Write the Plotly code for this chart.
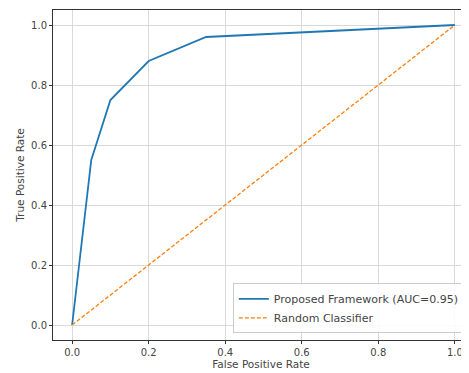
import plotly.graph_objects as go

fpr = [0.0, 0.05, 0.1, 0.2, 0.35, 1.0]
tpr = [0.0, 0.55, 0.75, 0.88, 0.96, 1.0]
rand_x = [0.0, 1.0]
rand_y = [0.0, 1.0]
ticks = [0.0, 0.2, 0.4, 0.6, 0.8, 1.0]
tick_labels = ["0.0", "0.2", "0.4", "0.6", "0.8", "1.0"]

fig = go.Figure()
fig.add_trace(go.Scatter(x=fpr, y=tpr, mode="lines", name="Proposed Framework (AUC=0.95)",
                         line=dict(color="#1f77b4", width=1.8)))
fig.add_trace(go.Scatter(x=rand_x, y=rand_y, mode="lines", name="Random Classifier",
                         line=dict(color="#ff7f0e", width=1.3, dash="4px,2px")))

axis_common = dict(showgrid=True, gridcolor="#d9d9d9", gridwidth=1, zeroline=False,
                   showline=True, linecolor="#333333", linewidth=1, mirror=True,
                   ticks="outside", ticklen=3, tickcolor="#333333",
                   tickvals=ticks, ticktext=tick_labels,
                   tickfont=dict(size=10, color="#444444"))

fig.update_layout(
    width=461, height=365,
    margin=dict(l=45, r=0, t=2, b=33),
    paper_bgcolor="white", plot_bgcolor="white",
    font=dict(family="DejaVu Sans", size=10, color="#444444"),
    showlegend=True,
    legend=dict(x=0.99, y=0.02, xanchor="right", yanchor="bottom",
                bgcolor="rgba(255,255,255,0.85)", bordercolor="#cccccc", borderwidth=1,
                font=dict(size=11), tracegroupgap=0, itemwidth=30),
    xaxis=dict(range=[-0.05, 1.037], title=dict(text="False Positive Rate", standoff=0,
               font=dict(size=10.5)), **axis_common),
    yaxis=dict(range=[-0.05, 1.05], title=dict(text="True Positive Rate", standoff=4,
               font=dict(size=10.5)), **axis_common),
)

fig.write_html("out.html")
